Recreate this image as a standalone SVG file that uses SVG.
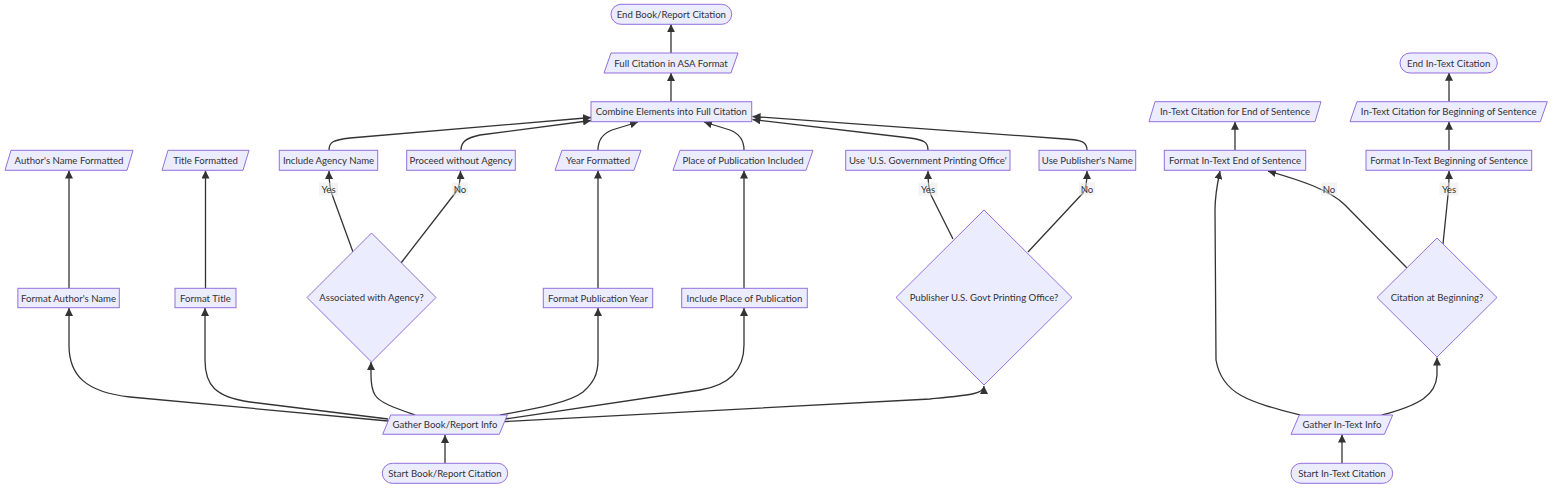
<svg xmlns="http://www.w3.org/2000/svg" width="1568" height="494" viewBox="0 0 1568 494">
<style>
.n{fill:#ECECFF;stroke:#9370DB;stroke-width:1}
.t{font-family:"Lato","DejaVu Sans",sans-serif;font-size:9.6px;fill:#333;text-anchor:middle;dominant-baseline:central}
.e{fill:none;stroke:#333;stroke-width:1.3}
.lb{fill:#e8e8e8;fill-opacity:0.5}
</style>
<defs>
<marker id="ah" viewBox="0 0 10 10" refX="10" refY="5" markerWidth="8" markerHeight="8" markerUnits="userSpaceOnUse" orient="auto"><path d="M0,0 L10,5 L0,10 z" fill="#333"/></marker>
</defs>
<rect width="1568" height="494" fill="#fff"/>
<g id="connectors">
<path class="e" marker-end="url(#ah)" d="M445,463 L445,435"/>
<path class="e" marker-end="url(#ah)" d="M388,421 L130,397 C85,392 69,375 69,345 L69,308"/>
<path class="e" marker-end="url(#ah)" d="M388,419 L250,402 C215,397 205,385 205,360 L205,308"/>
<path class="e" marker-end="url(#ah)" d="M415,415 C395,408 380,403 375,395 C372,390 371,385 371,375 L371,362"/>
<path class="e" marker-end="url(#ah)" d="M500,415 C540,408 570,402 583,392 C593,383 598,375 598,360 L598,308"/>
<path class="e" marker-end="url(#ah)" d="M505,419 L700,390 C730,385 744,370 744,345 L744,308"/>
<path class="e" marker-end="url(#ah)" d="M505,421.5 L930,399 C970,395 984,394 984,386"/>
<path class="e" marker-end="url(#ah)" d="M69,288 L69,170.5"/>
<path class="e" marker-end="url(#ah)" d="M205.5,288 L205.5,170.5"/>
<path class="e" marker-end="url(#ah)" d="M598,288 L598,170.5"/>
<path class="e" marker-end="url(#ah)" d="M744,288 L744,170.5"/>
<path class="e" marker-end="url(#ah)" d="M353,252 L333,197 Q329,188 329,171"/>
<path class="e" marker-end="url(#ah)" d="M401,263 L456,192 Q460.5,186 460.5,171"/>
<path class="e" marker-end="url(#ah)" d="M953,239 L931,195 Q928,188 928,171"/>
<path class="e" marker-end="url(#ah)" d="M1028,252 L1083,193 Q1087,188 1087,171"/>
<path class="e" marker-end="url(#ah)" d="M329,150 C329,142 333,140 350,138 L591,117.5"/>
<path class="e" marker-end="url(#ah)" d="M461,150 C461,142 466,138 480,135 L591,120.5"/>
<path class="e" marker-end="url(#ah)" d="M598,150 C598,140 602,134 612,130 L638,122"/>
<path class="e" marker-end="url(#ah)" d="M744,150 C744,140 740,134 730,130 L704,122"/>
<path class="e" marker-end="url(#ah)" d="M928,150 C928,142 924,140 910,138 L752.5,119.5"/>
<path class="e" marker-end="url(#ah)" d="M1087,150 C1087,142 1082,140 1065,139 L752.5,116.5"/>
<path class="e" marker-end="url(#ah)" d="M671,101.7 L671,73"/>
<path class="e" marker-end="url(#ah)" d="M671,53 L671,24.3"/>
<path class="e" marker-end="url(#ah)" d="M1342,463.3 L1342,434.5"/>
<path class="e" marker-end="url(#ah)" d="M1300,415 C1250,402 1222,395 1216,360 L1215,210 C1215,195 1217,185 1220,171"/>
<path class="e" marker-end="url(#ah)" d="M1382,415 C1420,405 1436,395 1437,375 L1437,357.5"/>
<path class="e" marker-end="url(#ah)" d="M1443,244 L1448,195 Q1449,188 1449,171"/>
<path class="e" marker-end="url(#ah)" d="M1407,268 L1345,205 C1330,190 1300,180 1268,171"/>
<path class="e" marker-end="url(#ah)" d="M1235,150 L1235,121.7"/>
<path class="e" marker-end="url(#ah)" d="M1449,150 L1449,121.7"/>
<path class="e" marker-end="url(#ah)" d="M1449,101.7 L1449,72.7"/>
<g id="labels">
<rect class="lb" x="319" y="182.5" width="19" height="13"/><text class="t" x="328.5" y="189">Yes</text>
<rect class="lb" x="452" y="182.5" width="16" height="13"/><text class="t" x="460" y="189">No</text>
<rect class="lb" x="918.5" y="182.5" width="19" height="13"/><text class="t" x="928" y="189">Yes</text>
<rect class="lb" x="1079" y="182.5" width="16" height="13"/><text class="t" x="1087" y="189">No</text>
<rect class="lb" x="1321" y="182.5" width="16" height="13"/><text class="t" x="1329" y="189">No</text>
<rect class="lb" x="1439.5" y="182.5" width="19" height="13"/><text class="t" x="1449" y="189">Yes</text>
</g>
</g>
<g id="endBook"><rect class="n" x="611" y="4.3" width="120.7" height="20" rx="10"/><text class="t" x="671.3" y="14.3">End Book/Report Citation</text></g>
<g id="fullCitation"><polygon class="n" points="604,73 611,53 738,53 731,73"/><text class="t" x="671" y="63">Full Citation in ASA Format</text></g>
<g id="combine"><rect class="n" x="591" y="101.7" width="160.7" height="20"/><text class="t" x="671.3" y="111.7">Combine Elements into Full Citation</text></g>
<g id="authorFormatted"><polygon class="n" points="5,170.3 11,150.3 133,150.3 127,170.3"/><text class="t" x="69" y="160.3">Author's Name Formatted</text></g>
<g id="titleFormatted"><polygon class="n" points="162,170.3 168,150.3 249,150.3 243,170.3"/><text class="t" x="205.5" y="160.3">Title Formatted</text></g>
<g id="includeAgency"><rect class="n" x="279.3" y="150.3" width="98.4" height="20"/><text class="t" x="328.5" y="160.3">Include Agency Name</text></g>
<g id="proceedWithout"><rect class="n" x="406.7" y="150.3" width="108.6" height="20"/><text class="t" x="461" y="160.3">Proceed without Agency</text></g>
<g id="yearFormatted"><polygon class="n" points="555,170.3 562,150.3 641,150.3 634,170.3"/><text class="t" x="598" y="160.3">Year Formatted</text></g>
<g id="placeIncluded"><polygon class="n" points="673,170.3 680,150.3 813,150.3 806,170.3"/><text class="t" x="743" y="160.3">Place of Publication Included</text></g>
<g id="useGPO"><rect class="n" x="845.7" y="150.3" width="164.3" height="20"/><text class="t" x="927.8" y="160.3">Use 'U.S. Government Printing Office'</text></g>
<g id="usePublisher"><rect class="n" x="1039" y="150.3" width="96.7" height="20"/><text class="t" x="1087.3" y="160.3">Use Publisher's Name</text></g>
<g id="formatEnd"><rect class="n" x="1164.3" y="150.3" width="141.4" height="20"/><text class="t" x="1235" y="160.3">Format In-Text End of Sentence</text></g>
<g id="inTextEnd"><polygon class="n" points="1149,121.7 1155,101.7 1321,101.7 1315,121.7"/><text class="t" x="1235" y="111.7">In-Text Citation for End of Sentence</text></g>
<g id="formatBeg"><rect class="n" x="1366" y="150.3" width="165.7" height="20"/><text class="t" x="1449" y="160.3">Format In-Text Beginning of Sentence</text></g>
<g id="inTextBeg"><polygon class="n" points="1350,121.7 1357,101.7 1547.3,101.7 1540.3,121.7"/><text class="t" x="1448.7" y="111.7">In-Text Citation for Beginning of Sentence</text></g>
<g id="endInText"><rect class="n" x="1400" y="53" width="97.3" height="20" rx="10"/><text class="t" x="1448.7" y="63">End In-Text Citation</text></g>
<g id="formatAuthor"><rect class="n" x="17.9" y="288.3" width="101.4" height="19.4"/><text class="t" x="68.6" y="298">Format Author's Name</text></g>
<g id="formatTitle"><rect class="n" x="175" y="288.3" width="61" height="19.4"/><text class="t" x="205.5" y="298">Format Title</text></g>
<g id="agencyQ"><polygon class="n" points="371.5,233 436,297.5 371.5,362 307,297.5"/><text class="t" x="371.5" y="297.5">Associated with Agency?</text></g>
<g id="formatYear"><rect class="n" x="543.3" y="288.3" width="109.4" height="19.4"/><text class="t" x="598" y="298">Format Publication Year</text></g>
<g id="includePlace"><rect class="n" x="681.7" y="288.3" width="125.6" height="19.4"/><text class="t" x="744.5" y="298">Include Place of Publication</text></g>
<g id="publisherQ"><polygon class="n" points="984,210 1072,297.5 984,385 896,297.5"/><text class="t" x="984" y="297.5">Publisher U.S. Govt Printing Office?</text></g>
<g id="citationQ"><polygon class="n" points="1437,238 1497,297.5 1437,357 1377,297.5"/><text class="t" x="1437" y="297.5">Citation at Beginning?</text></g>
<g id="gatherBook"><polygon class="n" points="382.7,434.3 390.7,415 507.3,415 499.3,434.3"/><text class="t" x="445" y="424.7">Gather Book/Report Info</text></g>
<g id="startBook"><rect class="n" x="382.3" y="463.3" width="125.4" height="20" rx="10"/><text class="t" x="445" y="473.3">Start Book/Report Citation</text></g>
<g id="gatherInText"><polygon class="n" points="1291,434.3 1299.3,415 1392.7,415 1384.4,434.3"/><text class="t" x="1342" y="424.7">Gather In-Text Info</text></g>
<g id="startInText"><rect class="n" x="1291" y="463.3" width="101.7" height="20" rx="10"/><text class="t" x="1342" y="473.3">Start In-Text Citation</text></g>
</svg>
